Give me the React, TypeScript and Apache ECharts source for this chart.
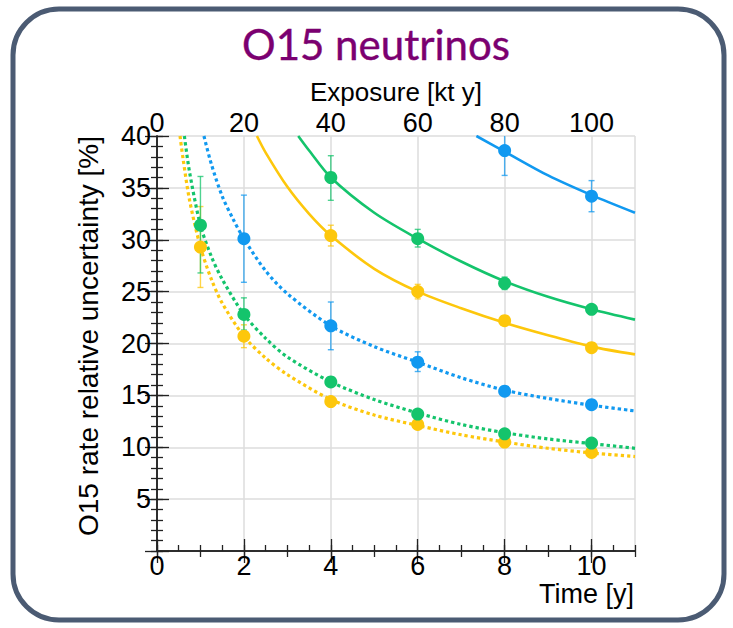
import React, { useEffect, useRef } from "react";
import * as echarts from "echarts";

// ---- axis ticks ----
const yTicks = [0, 5, 10, 15, 20, 25, 30, 35, 40];
const timeRange = [0, 11];
const exposureRange = [0, 110];

// ---- colours ----
const BLUE = "#1199f0";
const GREEN = "#14c46c";
const YELLOW = "#fdc70c";

// ---- fitted curves (time [y], uncertainty [%]) ----
const yellowDottedT = [0.53, 0.6, 0.75, 1, 1.25, 1.5, 2, 2.5, 3, 4, 5, 6, 7, 8, 9, 10, 11];
const yellowDottedV = [40, 37.8, 33.8, 29.3, 26.2, 23.9, 20.7, 18.6, 17.0, 14.6, 13.1, 12.1, 11.2, 10.5, 9.9, 9.45, 9.1];

const greenDottedT = [0.63, 0.75, 1, 1.25, 1.5, 2, 2.5, 3, 4, 5, 6, 7, 8, 9, 10, 11];
const greenDottedV = [40, 36.5, 31.4, 28.4, 26.2, 22.8, 20.5, 18.7, 16.3, 14.6, 13.3, 12.2, 11.4, 10.8, 10.35, 9.9];

const blueDottedT = [1.08, 1.25, 1.5, 1.75, 2, 2.5, 3, 4, 5, 6, 7, 8, 9, 10, 11];
const blueDottedV = [40, 37.3, 34.2, 32.0, 30.1, 27.0, 24.8, 21.7, 19.7, 18.2, 16.7, 15.5, 14.7, 14.05, 13.5];

const yellowSolidT = [2.3, 2.5, 3, 3.5, 4, 5, 6, 7, 8, 9, 10, 11];
const yellowSolidV = [40, 38.4, 35.1, 32.5, 30.4, 27.2, 25.0, 23.4, 22.0, 20.8, 19.7, 18.95];

const greenSolidT = [3.25, 3.5, 4, 5, 6, 7, 8, 9, 10, 11];
const greenSolidV = [40, 38.6, 36.0, 32.6, 30.1, 27.9, 26.0, 24.5, 23.3, 22.3];

const blueSolidT = [7.35, 8, 9, 10, 11];
const blueSolidV = [40, 38.5, 36.2, 34.3, 32.6];

// ---- measured points: time, value, low, high ----
const blueSolidPts = [
  [8, 38.6, 36.2, 41.0],
  [10, 34.2, 32.7, 35.7],
];
const greenSolidPts = [
  [4, 36.0, 33.8, 38.1],
  [6, 30.1, 29.3, 31.0],
  [8, 25.8, 25.2, 26.4],
  [10, 23.3, 23.0, 23.6],
];
const yellowSolidPts = [
  [4, 30.4, 29.4, 31.4],
  [6, 25.0, 24.3, 25.7],
  [8, 22.2, 22.0, 22.4],
  [10, 19.6, 19.4, 19.8],
];
const blueDottedPts = [
  [2, 30.1, 25.9, 34.3],
  [4, 21.7, 19.4, 24.0],
  [6, 18.2, 17.3, 19.2],
  [8, 15.4, 15.2, 15.6],
  [10, 14.1, 13.9, 14.3],
];
const greenDottedPts = [
  [1, 31.4, 26.8, 36.1],
  [2, 22.8, 21.3, 24.4],
  [4, 16.3, 16.1, 16.5],
  [6, 13.2, 13.0, 13.4],
  [8, 11.3, 11.1, 11.5],
  [10, 10.4, 10.2, 10.6],
];
const yellowDottedPts = [
  [1, 29.3, 25.4, 33.2],
  [2, 20.7, 19.6, 21.8],
  [4, 14.4, 14.2, 14.6],
  [6, 12.2, 12.0, 12.4],
  [8, 10.5, 10.3, 10.7],
  [10, 9.5, 9.3, 9.7],
];

const FONT = "Liberation Sans, Arial, sans-serif";
const AXIS_COLOR = "#222";

function zip(t: number[], v: number[]) {
  return t.map((x, i) => [x, v[i]]);
}

function curve(t: number[], v: number[], color: string, dotted: boolean) {
  return {
    type: "line",
    data: zip(t, v),
    symbol: "none",
    smooth: 0.3,
    clip: true,
    z: 3,
    lineStyle: {
      color,
      width: dotted ? 3.2 : 2.6,
      type: dotted ? [3.3, 3] : "solid",
      cap: "butt",
    },
    silent: true,
  };
}

function errorBars(pts: number[][], color: string) {
  return {
    type: "custom",
    data: pts.map((p) => [p[0], p[2], p[3]]),
    encode: { x: 0, y: [1, 2] },
    clip: true,
    z: 2,
    silent: true,
    renderItem: (params: any, api: any) => {
      const x = api.value(0);
      const lo = api.value(1);
      const hi = api.value(2);
      const a = api.coord([x, hi]);
      const b = api.coord([x, lo]);
      const cap = 3;
      const style = { stroke: color, lineWidth: 1.4, opacity: 0.75 };
      return {
        type: "group",
        children: [
          { type: "line", shape: { x1: a[0], y1: a[1], x2: b[0], y2: b[1] }, style },
          { type: "line", shape: { x1: a[0] - cap, y1: a[1], x2: a[0] + cap, y2: a[1] }, style },
          { type: "line", shape: { x1: b[0] - cap, y1: b[1], x2: b[0] + cap, y2: b[1] }, style },
        ],
      };
    },
  };
}

function points(pts: number[][], color: string) {
  return {
    type: "scatter",
    data: pts.map((p) => [p[0], p[1]]),
    symbol: "circle",
    symbolSize: 13,
    z: 4,
    itemStyle: { color, opacity: 1 },
    silent: true,
  };
}

function xAxisDef(pos: string, min: number, max: number, interval: number, major: boolean) {
  return {
    type: "value",
    position: pos,
    min,
    max,
    interval,
    axisLine: { show: major, lineStyle: { color: AXIS_COLOR, width: 1.5 } },
    axisTick: { show: true, inside: true, length: major ? 12 : 6, lineStyle: { color: AXIS_COLOR, width: 1.3 } },
    axisLabel: {
      show: major,
      fontSize: 27,
      color: "#000",
      fontFamily: FONT,
      margin: pos === "top" ? 0 : 1,
      showMaxLabel: false,
    },
    splitLine: { show: major && pos === "bottom", lineStyle: { color: "#dcdcdc", width: 1.5 } },
  };
}

function yAxisDef(pos: string, interval: number, major: boolean) {
  return {
    type: "value",
    position: pos,
    min: yTicks[0],
    max: yTicks[yTicks.length - 1],
    interval,
    axisLine: { show: major, lineStyle: { color: AXIS_COLOR, width: 1.5 } },
    axisTick: { show: true, inside: true, length: major ? 12 : 6, lineStyle: { color: AXIS_COLOR, width: 1.3 } },
    axisLabel: {
      show: major && pos === "left",
      fontSize: 27,
      color: "#000",
      fontFamily: FONT,
      margin: 6,
      formatter: (v: number) => (v === 0 ? "" : String(v)),
    },
    splitLine: { show: major && pos === "left", lineStyle: { color: "#dcdcdc", width: 1.5 } },
  };
}

export default function App() {
  const ref = useRef<HTMLDivElement>(null);
  useEffect(() => {
    if (!ref.current) return;
    const chart = echarts.init(ref.current, null, { renderer: "svg" });
    const option: any = {
      animation: false,
      backgroundColor: "#ffffff",
      grid: { left: 157, top: 136, width: 478, height: 415, containLabel: false },
      xAxis: [
        xAxisDef("bottom", timeRange[0], timeRange[1], 2, true),
        xAxisDef("bottom", timeRange[0], timeRange[1], 0.5, false),
        xAxisDef("top", exposureRange[0], exposureRange[1], 20, true),
        xAxisDef("top", exposureRange[0], exposureRange[1], 10, false),
      ],
      yAxis: [
        yAxisDef("left", 5, true),
        yAxisDef("left", 1, false),
        yAxisDef("right", 5, true),
        yAxisDef("right", 1, false),
      ],
      graphic: [
        {
          type: "rect",
          shape: { x: 13, y: 9, width: 711, height: 611, r: 46 },
          style: { fill: "none", stroke: "#4b5b73", lineWidth: 5 },
          z: 0,
        },
        {
          type: "text",
          x: 376,
          y: 44,
          style: {
            text: "O15 neutrinos",
            fill: "#7b0070",
            stroke: "#7b0070",
            lineWidth: 0.4,
            font: "42px Lato, 'Noto Sans', sans-serif",
            textAlign: "center",
            textVerticalAlign: "middle",
          },
        },
        {
          type: "text",
          x: 396,
          y: 92,
          style: {
            text: "Exposure [kt y]",
            fill: "#000",
            font: `26px ${FONT}`,
            textAlign: "center",
            textVerticalAlign: "middle",
          },
        },
        {
          type: "text",
          x: 634,
          y: 594,
          style: {
            text: "Time [y]",
            fill: "#000",
            font: `27px ${FONT}`,
            textAlign: "right",
            textVerticalAlign: "middle",
          },
        },
        {
          type: "text",
          x: 88,
          y: 336,
          rotation: Math.PI / 2,
          style: {
            text: "O15 rate relative uncertainty [%]",
            fill: "#000",
            font: `28px ${FONT}`,
            textAlign: "center",
            textVerticalAlign: "middle",
          },
        },
      ],
      series: [
        errorBars(yellowDottedPts, YELLOW),
        errorBars(greenDottedPts, GREEN),
        errorBars(blueDottedPts, BLUE),
        errorBars(yellowSolidPts, YELLOW),
        errorBars(greenSolidPts, GREEN),
        errorBars(blueSolidPts, BLUE),
        curve(yellowDottedT, yellowDottedV, YELLOW, true),
        curve(greenDottedT, greenDottedV, GREEN, true),
        curve(blueDottedT, blueDottedV, BLUE, true),
        curve(yellowSolidT, yellowSolidV, YELLOW, false),
        curve(greenSolidT, greenSolidV, GREEN, false),
        curve(blueSolidT, blueSolidV, BLUE, false),
        points(yellowDottedPts, YELLOW),
        points(greenDottedPts, GREEN),
        points(blueDottedPts, BLUE),
        points(yellowSolidPts, YELLOW),
        points(greenSolidPts, GREEN),
        points(blueSolidPts, BLUE),
      ],
    };
    chart.setOption(option);
    return () => chart.dispose();
  }, []);
  return (
    <div
      ref={ref}
      style={{ position: "fixed", left: 0, top: 0, width: 733, height: 628, background: "#fff" }}
    />
  );
}
